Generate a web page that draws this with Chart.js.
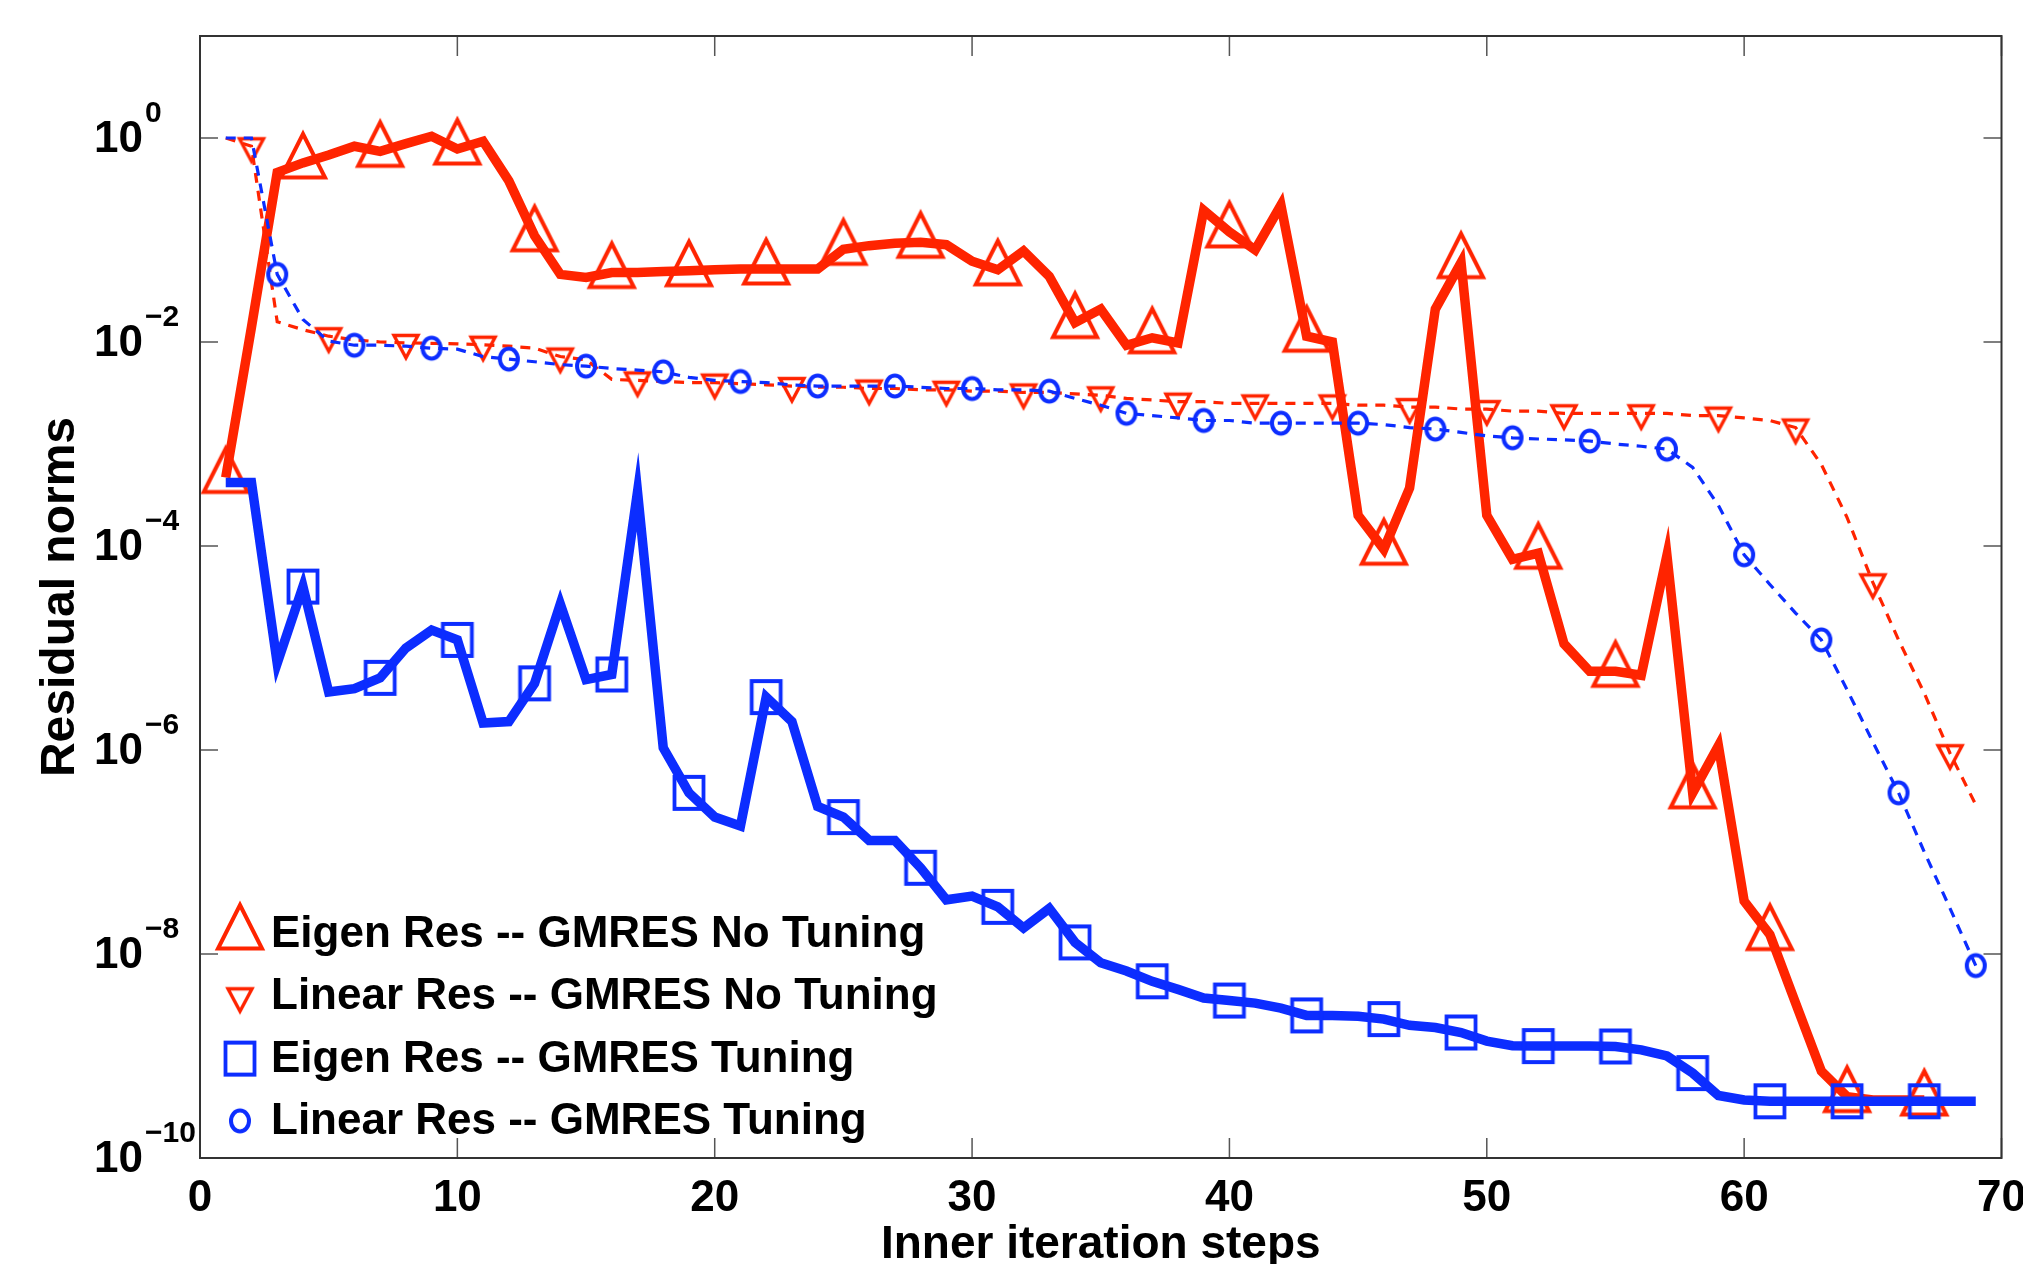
<!DOCTYPE html>
<html>
<head>
<meta charset="utf-8">
<title>Residual norms</title>
<script src="https://cdn.jsdelivr.net/npm/chart.js@4.4.1/dist/chart.umd.min.js"></script>
<style>
  html, body { margin: 0; padding: 0; background: #fff; }
  canvas { display: block; }
</style>
</head>
<body>
<canvas id="resChart" width="2023" height="1264"></canvas>
<script>
// inner iteration steps
const steps = [1, 2, 3, 4, 5, 6, 7, 8, 9, 10, 11, 12, 13, 14, 15, 16, 17, 18, 19, 20,
  21, 22, 23, 24, 25, 26, 27, 28, 29, 30, 31, 32, 33, 34, 35, 36, 37, 38, 39, 40,
  41, 42, 43, 44, 45, 46, 47, 48, 49, 50, 51, 52, 53, 54, 55, 56, 57, 58, 59, 60,
  61, 62, 63, 64, 65, 66, 67, 68, 69];

// Eigen Res -- GMRES No Tuning (steps 1..67)
const eigenNoTuning = [4.7e-4, 1.4e-2, 0.46, 0.57, 0.68, 0.83, 0.74, 0.88, 1.04, 0.78,
  0.93, 0.38, 0.11, 0.046, 0.043, 0.048, 0.048, 0.049, 0.050, 0.051,
  0.052, 0.052, 0.052, 0.052, 0.081, 0.088, 0.093, 0.095, 0.090, 0.062,
  0.051, 0.078, 0.044, 0.0155, 0.021, 0.0093, 0.011, 0.0098, 0.195, 0.12,
  0.080, 0.22, 0.0114, 0.010, 2.0e-4, 9.3e-5, 3.7e-4, 0.021, 0.060, 2.0e-4,
  7.4e-5, 8.5e-5, 1.1e-5, 5.9e-6, 5.9e-6, 5.4e-6, 8.1e-5, 3.8e-7, 1.1e-6, 3.3e-8,
  1.55e-8, 3.3e-9, 7.1e-10, 4.0e-10, 3.7e-10, 3.7e-10, 3.7e-10];

// Linear Res -- GMRES No Tuning
const linearNoTuning = [1.0, 0.83, 0.0158, 0.0132, 0.0114, 0.0105, 0.0100, 0.0098, 0.0097, 0.0096,
  0.0094, 0.0091, 0.0087, 0.0072, 0.0067, 0.0043, 0.0042, 0.0041, 0.0040, 0.0040,
  0.0039, 0.0038, 0.0037, 0.0036, 0.0036, 0.0035, 0.0035, 0.0034, 0.0034, 0.0033,
  0.0033, 0.0032, 0.0032, 0.0031, 0.0030, 0.0028, 0.0027, 0.0026, 0.0026, 0.0025,
  0.0025, 0.0025, 0.0025, 0.0025, 0.0024, 0.0024, 0.0023, 0.0023, 0.0022, 0.0022,
  0.0021, 0.0021, 0.0020, 0.0020, 0.0020, 0.0020, 0.0020, 0.0019, 0.0019, 0.0018,
  0.0017, 0.00145, 6.3e-4, 1.9e-4, 4.4e-5, 1.2e-5, 3.6e-6, 9.3e-7, 2.9e-7];

// Eigen Res -- GMRES Tuning
const eigenTuning = [4.2e-4, 4.2e-4, 7.1e-6, 4.0e-5, 3.7e-6, 4.0e-6, 5.1e-6, 1.0e-5, 1.5e-5, 1.2e-5,
  1.84e-6, 1.9e-6, 4.5e-6, 2.7e-5, 4.9e-6, 5.5e-6, 3.4e-4, 1.05e-6, 3.8e-7, 2.2e-7,
  1.8e-7, 3.3e-6, 1.9e-6, 2.8e-7, 2.2e-7, 1.3e-7, 1.3e-7, 7.0e-8, 3.4e-8, 3.7e-8,
  2.9e-8, 1.8e-8, 2.8e-8, 1.3e-8, 8.2e-9, 6.8e-9, 5.4e-9, 4.5e-9, 3.7e-9, 3.5e-9,
  3.3e-9, 2.95e-9, 2.5e-9, 2.5e-9, 2.45e-9, 2.3e-9, 2.0e-9, 1.9e-9, 1.7e-9, 1.4e-9,
  1.26e-9, 1.25e-9, 1.25e-9, 1.25e-9, 1.24e-9, 1.15e-9, 1.0e-9, 6.8e-10, 4.1e-10, 3.7e-10,
  3.6e-10, 3.6e-10, 3.6e-10, 3.6e-10, 3.6e-10, 3.6e-10, 3.6e-10, 3.6e-10, 3.6e-10];

// Linear Res -- GMRES Tuning
const linearTuning = [1.0, 1.0, 0.046, 0.0166, 0.0102, 0.0093, 0.0093, 0.0091, 0.0087, 0.0085,
  0.0072, 0.0068, 0.0064, 0.0060, 0.0058, 0.0055, 0.0053, 0.0051, 0.0045, 0.0042,
  0.0041, 0.0040, 0.0038, 0.0037, 0.0037, 0.0037, 0.0037, 0.0036, 0.0035, 0.0035,
  0.0034, 0.0034, 0.0033, 0.0028, 0.0024, 0.0020, 0.0019, 0.0018, 0.0017, 0.0017,
  0.0016, 0.0016, 0.0016, 0.0016, 0.0016, 0.00155, 0.00145, 0.0014, 0.0013, 0.0012,
  0.00115, 0.00112, 0.0011, 0.00107, 0.0010, 0.00095, 0.00089, 5.9e-4, 2.5e-4, 8.2e-5,
  4.2e-5, 2.2e-5, 1.2e-5, 3.9e-6, 1.2e-6, 3.8e-7, 1.0e-7, 2.8e-8, 7.7e-9];

const xTicks = [0, 10, 20, 30, 40, 50, 60, 70];
const yTickExps = [0, -2, -4, -6, -8, -10];
const legendLabels = ['Eigen Res -- GMRES No Tuning', 'Linear Res -- GMRES No Tuning',
  'Eigen Res -- GMRES Tuning', 'Linear Res -- GMRES Tuning'];

const RED = '#ff2400';
const BLUE = '#0c2dff';
const FONT = "'Liberation Sans', Arial, Helvetica, sans-serif";

Chart.defaults.color = '#000';
Chart.defaults.font.family = FONT;

// matlab-like hollow markers, drawn once on small canvases
function makeMarker(kind, color) {
  const c = document.createElement('canvas');
  c.width = 70;
  c.height = 84;
  const g = c.getContext('2d');
  const cx = 35, cy = 42;
  g.strokeStyle = color;
  g.lineJoin = 'miter';
  g.beginPath();
  if (kind === 'triUp') {
    g.lineWidth = 4;
    g.moveTo(cx, cy - 29);
    g.lineTo(cx + 22, cy + 14.5);
    g.lineTo(cx - 22, cy + 14.5);
    g.closePath();
  } else if (kind === 'triDown') {
    g.lineWidth = 3.4;
    g.moveTo(cx, cy + 15);
    g.lineTo(cx + 12, cy - 7.5);
    g.lineTo(cx - 12, cy - 7.5);
    g.closePath();
  } else if (kind === 'square') {
    g.lineWidth = 3.8;
    g.rect(cx - 14.5, cy - 16, 29, 32);
  } else {
    g.lineWidth = 4;
    g.ellipse(cx, cy, 9, 10.5, 0, 0, 2 * Math.PI);
  }
  g.stroke();
  return c;
}

const triUp = makeMarker('triUp', RED);
const triDown = makeMarker('triDown', RED);
const square = makeMarker('square', BLUE);
const circle = makeMarker('circle', BLUE);

const toPoints = vals => vals.map((v, i) => ({ x: steps[i], y: v }));
// a marker on every third point
const markEvery = (k, skipFirst) => c =>
  (c.dataIndex % 3 === k && !(skipFirst && c.dataIndex === 0)) ? 12 : 0;

const axesBox = {
  id: 'axesBox',
  afterDatasetsDraw(chart) {
    const { ctx, chartArea: a, scales: { x, y } } = chart;
    ctx.save();
    ctx.strokeStyle = '#555';
    ctx.lineWidth = 1.5;
    ctx.beginPath();
    xTicks.forEach(v => {
      const px = x.getPixelForValue(v);
      ctx.moveTo(px, a.bottom); ctx.lineTo(px, a.bottom - 20);
      ctx.moveTo(px, a.top); ctx.lineTo(px, a.top + 20);
    });
    yTickExps.forEach(e => {
      const py = y.getPixelForValue(Math.pow(10, e));
      ctx.moveTo(a.left, py); ctx.lineTo(a.left + 18, py);
      ctx.moveTo(a.right, py); ctx.lineTo(a.right - 18, py);
    });
    ctx.stroke();
    ctx.strokeStyle = '#333';
    ctx.lineWidth = 2;
    ctx.strokeRect(a.left, a.top, a.right - a.left, a.bottom - a.top);
    ctx.restore();
  }
};

// 10^k labels with raised exponent
const yLabels = {
  id: 'yLabels',
  afterDraw(chart) {
    const { ctx, chartArea: a, scales: { y } } = chart;
    ctx.save();
    ctx.fillStyle = '#000';
    ctx.textBaseline = 'middle';
    yTickExps.forEach(e => {
      const py = y.getPixelForValue(Math.pow(10, e));
      ctx.font = 'bold 44px ' + FONT;
      ctx.textAlign = 'right';
      ctx.fillText('10', a.left - 57, py + 2);
      ctx.font = 'bold 30px ' + FONT;
      ctx.textAlign = 'left';
      ctx.fillText(e === 0 ? '0' : '\u2212' + (-e), a.left - 55, py - 24);
    });
    ctx.restore();
  }
};

const legendBox = {
  id: 'legendBox',
  afterDraw(chart) {
    const { ctx, chartArea: a } = chart;
    const marks = [triUp, triDown, square, circle];
    ctx.save();
    ctx.fillStyle = '#000';
    ctx.font = 'bold 44px ' + FONT;
    ctx.textBaseline = 'middle';
    ctx.textAlign = 'left';
    legendLabels.forEach((t, i) => {
      const cy = a.top + 898 + i * 62.3;
      const m = marks[i];
      ctx.drawImage(m, a.left + 40 - m.width / 2, cy - m.height / 2);
      ctx.fillText(t, a.left + 71, cy + 1);
    });
    ctx.restore();
  }
};

new Chart(document.getElementById('resChart'), {
  type: 'line',
  data: {
    datasets: [
      {
        label: legendLabels[0],
        data: toPoints(eigenNoTuning),
        borderColor: RED,
        borderWidth: 9.5,
        pointStyle: triUp,
        pointRadius: markEvery(0, false),
        order: 4
      },
      {
        label: legendLabels[1],
        data: toPoints(linearNoTuning),
        borderColor: RED,
        borderWidth: 3.2,
        borderDash: [10, 8],
        pointStyle: triDown,
        pointRadius: markEvery(1, false),
        order: 3
      },
      {
        label: legendLabels[2],
        data: toPoints(eigenTuning),
        borderColor: BLUE,
        borderWidth: 9.5,
        pointStyle: square,
        pointRadius: markEvery(0, true),
        order: 2
      },
      {
        label: legendLabels[3],
        data: toPoints(linearTuning),
        borderColor: BLUE,
        borderWidth: 3.2,
        borderDash: [10, 8],
        pointStyle: circle,
        pointRadius: markEvery(2, false),
        order: 1
      }
    ]
  },
  options: {
    responsive: false,
    animation: false,
    events: [],
    layout: { padding: { left: 0, top: 36, right: 16, bottom: 0 } },
    elements: { line: { tension: 0, fill: false } },
    plugins: {
      legend: { display: false },
      tooltip: { enabled: false }
    },
    scales: {
      x: {
        type: 'linear',
        min: 0,
        max: 70,
        grid: { display: false, drawTicks: false },
        border: { display: false },
        afterBuildTicks: s => { s.ticks = xTicks.map(v => ({ value: v })); },
        ticks: {
          color: '#000',
          font: { size: 44, weight: 'bold' },
          padding: 14,
          maxRotation: 0,
          autoSkip: false
        },
        title: {
          display: true,
          text: 'Inner iteration steps',
          color: '#000',
          font: { size: 46, weight: 'bold' },
          padding: { top: 0, bottom: -9 }
        },
        afterFit: s => { s.height = 106; s.paddingLeft = 0; s.paddingRight = 0; }
      },
      y: {
        type: 'logarithmic',
        min: 1e-10,
        max: 10,
        grid: { display: false },
        border: { display: false },
        ticks: { display: false },
        title: {
          display: true,
          text: 'Residual norms',
          color: '#000',
          font: { size: 48, weight: 'bold' },
          padding: { top: 32, bottom: 0 }
        },
        afterFit: s => { s.width = 200; s.paddingTop = 0; s.paddingBottom = 0; }
      }
    }
  },
  plugins: [axesBox, yLabels, legendBox]
});
</script>
</body>
</html>
